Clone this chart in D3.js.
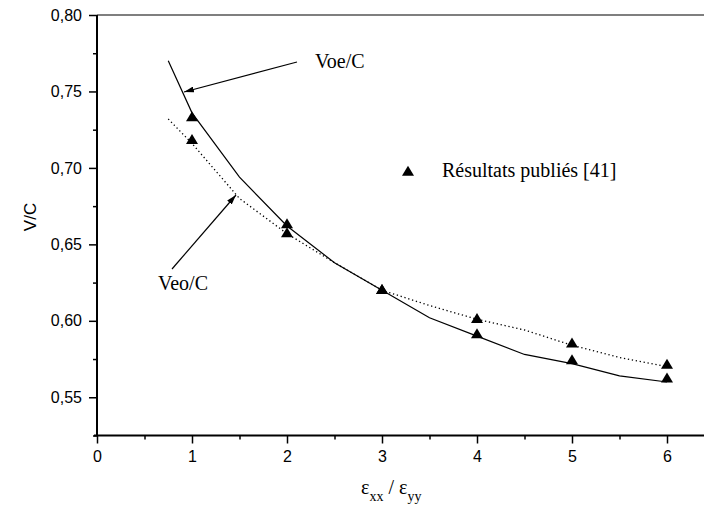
<!DOCTYPE html>
<html>
<head>
<meta charset="utf-8">
<script src="https://cdn.jsdelivr.net/npm/d3@7"></script>
<style>
  html, body { margin: 0; padding: 0; background: #fff; }
  svg { display: block; }
</style>
</head>
<body>
<svg id="chart" width="704" height="508"></svg>
<script>
// Strain ratio values on the horizontal axis
const ratio = [0.75, 1, 1.5, 2, 2.5, 3, 3.5, 4, 4.5, 5, 5.5, 6];
// Computed velocity ratios
const voe = [0.770, 0.736, 0.694, 0.662, 0.638, 0.620, 0.602, 0.590, 0.578, 0.572, 0.564, 0.560];
const veo = [0.732, 0.716, 0.680, 0.657, 0.638, 0.620, 0.610, 0.601, 0.594, 0.584, 0.576, 0.570];
// Published results
const pubX = [1, 2, 3, 4, 5, 6];
const pubUpper = [0.733, 0.663, 0.620, 0.601, 0.585, 0.571];
const pubLower = [0.718, 0.657, 0.620, 0.591, 0.574, 0.562];
// Axis ticks
const xTicks = [0, 1, 2, 3, 4, 5, 6];
const xMinor = [0.5, 1.5, 2.5, 3.5, 4.5, 5.5, 6.5];
const yTicks = [0.55, 0.60, 0.65, 0.70, 0.75, 0.80];
const yMinor = [0.525, 0.575, 0.625, 0.675, 0.725, 0.775];

const svg = d3.select("#chart");
const x = d3.scaleLinear().domain([0, 6.5]).range([97, 714.5]);
const y = d3.scaleLinear().domain([0.525, 0.80]).range([435.5, 15]);

const frLocale = d3.formatLocale({decimal: ",", thousands: " ", grouping: [3], currency: ["", " €"]});
const fmtY = frLocale.format(".2f");

const sans = "'Liberation Sans', Arial, sans-serif";
const serif = "'Liberation Serif', 'Times New Roman', serif";

// top frame line
svg.append("line")
  .attr("x1", x(0)).attr("x2", 704)
  .attr("y1", y(0.80)).attr("y2", y(0.80))
  .attr("stroke", "#555").attr("stroke-width", 1.5);

// x axis: major and minor ticks
const gx = svg.append("g").attr("transform", `translate(0,${y(0.525)})`);
gx.call(d3.axisBottom(x).tickValues(xTicks).tickSize(8).tickPadding(7).tickFormat(d3.format("d")))
  .call(g => g.select(".domain").attr("d", `M${x(0) - 3},0H704`).attr("stroke-width", 2))
  .call(g => g.selectAll(".tick line").attr("stroke-width", 1.5))
  .call(g => g.selectAll("text").attr("font-family", sans).attr("font-size", 16).attr("fill", "#000"));
gx.append("g").call(d3.axisBottom(x).tickValues(xMinor).tickSize(4).tickFormat(""))
  .call(g => g.select(".domain").remove())
  .call(g => g.selectAll(".tick line").attr("stroke-width", 1.5));

// y axis: major and minor ticks
const gy = svg.append("g").attr("transform", `translate(${x(0)},0)`);
gy.call(d3.axisLeft(y).tickValues(yTicks).tickSize(8).tickPadding(7).tickFormat(fmtY))
  .call(g => g.select(".domain").attr("d", `M0,${y(0.80)}V${y(0.525)}`).attr("stroke-width", 2))
  .call(g => g.selectAll(".tick line").attr("stroke-width", 1.5))
  .call(g => g.selectAll("text").attr("font-family", sans).attr("font-size", 16).attr("fill", "#000"));
gy.append("g").call(d3.axisLeft(y).tickValues(yMinor).tickSize(4).tickFormat(""))
  .call(g => g.select(".domain").remove())
  .call(g => g.selectAll(".tick line").attr("stroke-width", 1.5));

// axis titles
svg.append("text")
  .attr("transform", `translate(36,217) rotate(-90)`)
  .attr("text-anchor", "middle")
  .attr("font-family", sans).attr("font-size", 17)
  .text("V/C");

const xt = svg.append("text")
  .attr("x", 361).attr("y", 494)
  .attr("font-family", serif).attr("font-size", 20);
xt.append("tspan").text("ε");
xt.append("tspan").attr("dy", 7).attr("font-size", 14).text("xx");
xt.append("tspan").attr("dy", -7).text(" / ε");
xt.append("tspan").attr("dy", 7).attr("font-size", 14).text("yy");

// curves
const line = d3.line().x(d => x(d[0])).y(d => y(d[1]));
svg.append("path")
  .attr("d", line(ratio.map((r, i) => [r, voe[i]])))
  .attr("fill", "none").attr("stroke", "#000").attr("stroke-width", 1.2);
svg.append("path")
  .attr("d", line(ratio.map((r, i) => [r, veo[i]])))
  .attr("fill", "none").attr("stroke", "#000").attr("stroke-width", 1.3)
  .attr("stroke-dasharray", "1.3,2.7");

// published points as filled triangles
const tri = "M0,-6.3L6,3.7L-6,3.7Z";
const pts = pubX.flatMap((px, i) => [[px, pubUpper[i]], [px, pubLower[i]]]);
svg.append("g").selectAll("path").data(pts).join("path")
  .attr("transform", d => `translate(${x(d[0])},${y(d[1])})`)
  .attr("d", tri).attr("fill", "#000");

// legend
svg.append("path")
  .attr("transform", "translate(408,172)")
  .attr("d", tri).attr("fill", "#000");
svg.append("text")
  .attr("x", 442).attr("y", 177)
  .attr("font-family", serif).attr("font-size", 20)
  .text("Résultats publiés [41]");

// annotation arrows
const defs = svg.append("defs");
defs.append("marker")
  .attr("id", "head").attr("viewBox", "0 0 10 6")
  .attr("refX", 10).attr("refY", 3)
  .attr("markerWidth", 10).attr("markerHeight", 6)
  .attr("markerUnits", "userSpaceOnUse")
  .attr("orient", "auto")
  .append("path").attr("d", "M0,0L10,3L0,6Z").attr("fill", "#000");

svg.append("line")
  .attr("x1", 297).attr("y1", 62).attr("x2", 184).attr("y2", 92)
  .attr("stroke", "#000").attr("stroke-width", 1.2)
  .attr("marker-end", "url(#head)");
svg.append("text")
  .attr("x", 315).attr("y", 68)
  .attr("font-family", serif).attr("font-size", 20)
  .text("Voe/C");

svg.append("line")
  .attr("x1", 172).attr("y1", 269).attr("x2", 236).attr("y2", 195)
  .attr("stroke", "#000").attr("stroke-width", 1.2)
  .attr("marker-end", "url(#head)");
svg.append("text")
  .attr("x", 158).attr("y", 290)
  .attr("font-family", serif).attr("font-size", 20)
  .text("Veo/C");
</script>
</body>
</html>
